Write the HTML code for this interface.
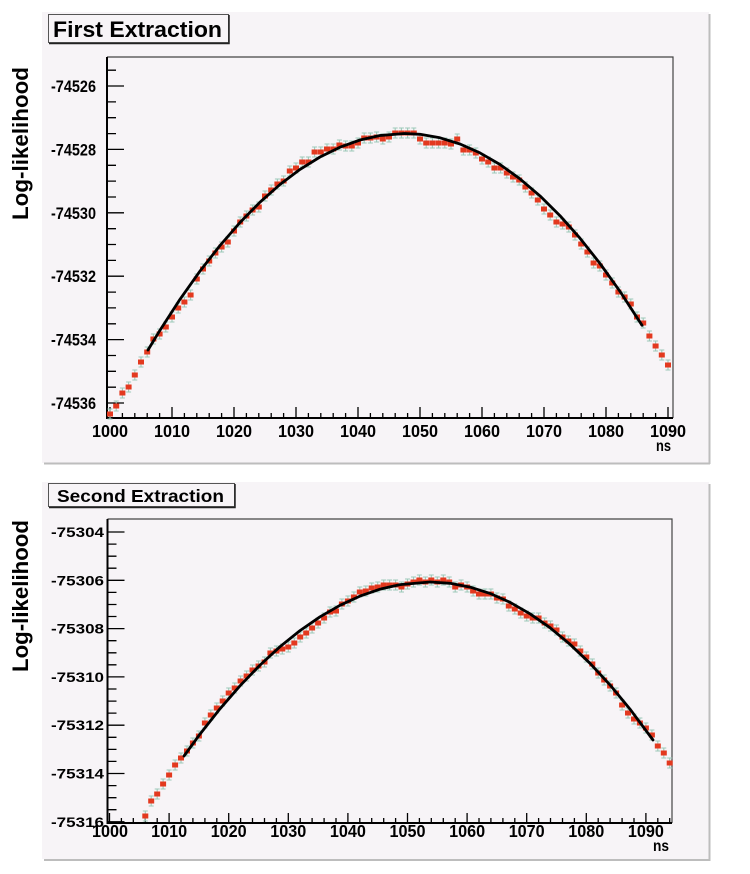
<!DOCTYPE html>
<html>
<head>
<meta charset="utf-8">
<style>
html,body{margin:0;padding:0;background:#fff;}
svg{display:block;}
text{font-family:"Liberation Sans",Arial,sans-serif;font-weight:bold;fill:#000;}
</style>
</head>
<body>
<svg width="750" height="874" viewBox="0 0 750 874" xmlns="http://www.w3.org/2000/svg">
<defs>
  <g id="p">
    <path d="M0 -5V5M-2.5 -5h5M-2.5 5h5" stroke="#9cc9b8" stroke-width="1.1" fill="none"/>
    <rect x="-3" y="-2.5" width="6" height="5" fill="#e3391f"/>
  </g>
</defs>

<!-- ================= PANEL 1 ================= -->
<rect x="42" y="12" width="667" height="451" fill="#f7f4f7"/>
<path d="M709.5 14V464M44 463.5H710" stroke="#bdbdbd" stroke-width="2" fill="none"/>

<rect x="48.5" y="14.5" width="180" height="28" fill="#f7f4f7" stroke="#555" stroke-width="1"/>
<path d="M229 15V43.5H49" stroke="#222" stroke-width="1.5" fill="none"/>
<text x="53" y="37" font-size="22" textLength="169" lengthAdjust="spacingAndGlyphs">First Extraction</text>

<text transform="translate(28,143.5) rotate(-90)" text-anchor="middle" font-size="22" textLength="153" lengthAdjust="spacingAndGlyphs">Log-likelihood</text>

<path d="M107 57H673V418" stroke="#444" stroke-width="1.2" fill="none"/>
<path d="M107 57V418H673" stroke="#000" stroke-width="2" fill="none"/>

<path stroke="#000" stroke-width="1.3" fill="none" d="
M107 86h17M107 149.4h17M107 212.8h17M107 276.2h17M107 339.6h17M107 403h17
M107 70.2h9M107 101.9h9M107 117.7h9M107 133.6h9M107 165.3h9M107 181.1h9M107 197h9
M107 228.7h9M107 244.5h9M107 260.4h9M107 292.1h9M107 307.9h9M107 323.8h9
M107 355.5h9M107 371.3h9M107 387.2h9"/>
<path stroke="#000" stroke-width="1.3" fill="none" d="
M110 418v-11M172 418v-11M234 418v-11M296 418v-11M358 418v-11M420 418v-11M482 418v-11M544 418v-11M606 418v-11M668 418v-11
M122.4 418v-5M134.8 418v-5M147.2 418v-5M159.6 418v-5
M184.4 418v-5M196.8 418v-5M209.2 418v-5M221.6 418v-5
M246.4 418v-5M258.8 418v-5M271.2 418v-5M283.6 418v-5
M308.4 418v-5M320.8 418v-5M333.2 418v-5M345.6 418v-5
M370.4 418v-5M382.8 418v-5M395.2 418v-5M407.6 418v-5
M432.4 418v-5M444.8 418v-5M457.2 418v-5M469.6 418v-5
M494.4 418v-5M506.8 418v-5M519.2 418v-5M531.6 418v-5
M556.4 418v-5M568.8 418v-5M581.2 418v-5M593.6 418v-5
M618.4 418v-5M630.8 418v-5M643.2 418v-5M655.6 418v-5"/>

<g font-size="16.5">
<text x="51" y="92" textLength="45" lengthAdjust="spacingAndGlyphs">-74526</text>
<text x="51" y="155.4" textLength="45" lengthAdjust="spacingAndGlyphs">-74528</text>
<text x="51" y="218.8" textLength="45" lengthAdjust="spacingAndGlyphs">-74530</text>
<text x="51" y="282.2" textLength="45" lengthAdjust="spacingAndGlyphs">-74532</text>
<text x="51" y="345.6" textLength="45" lengthAdjust="spacingAndGlyphs">-74534</text>
<text x="51" y="409" textLength="45" lengthAdjust="spacingAndGlyphs">-74536</text>
</g>
<g font-size="17.5" text-anchor="middle">
<text x="110" y="437" textLength="36" lengthAdjust="spacingAndGlyphs">1000</text>
<text x="172" y="437" textLength="36" lengthAdjust="spacingAndGlyphs">1010</text>
<text x="234" y="437" textLength="36" lengthAdjust="spacingAndGlyphs">1020</text>
<text x="296" y="437" textLength="36" lengthAdjust="spacingAndGlyphs">1030</text>
<text x="358" y="437" textLength="36" lengthAdjust="spacingAndGlyphs">1040</text>
<text x="420" y="437" textLength="36" lengthAdjust="spacingAndGlyphs">1050</text>
<text x="482" y="437" textLength="36" lengthAdjust="spacingAndGlyphs">1060</text>
<text x="544" y="437" textLength="36" lengthAdjust="spacingAndGlyphs">1070</text>
<text x="606" y="437" textLength="36" lengthAdjust="spacingAndGlyphs">1080</text>
<text x="668" y="437" textLength="36" lengthAdjust="spacingAndGlyphs">1090</text>
</g>
<text x="656" y="451" font-size="16" textLength="15" lengthAdjust="spacingAndGlyphs">ns</text>

<g>
<use href="#p" x="110" y="414"/><use href="#p" x="116.2" y="406"/><use href="#p" x="122.4" y="393"/><use href="#p" x="128.6" y="387"/><use href="#p" x="134.8" y="375"/><use href="#p" x="141" y="362"/><use href="#p" x="147.2" y="352"/><use href="#p" x="153.4" y="339"/><use href="#p" x="159.6" y="334"/><use href="#p" x="165.8" y="327"/>
<use href="#p" x="172" y="317"/><use href="#p" x="178.2" y="308"/><use href="#p" x="184.4" y="302"/><use href="#p" x="190.6" y="295"/><use href="#p" x="196.8" y="279"/><use href="#p" x="203" y="269"/><use href="#p" x="209.2" y="261"/><use href="#p" x="215.4" y="253"/><use href="#p" x="221.6" y="247"/><use href="#p" x="227.8" y="242"/>
<use href="#p" x="234" y="231"/><use href="#p" x="240.2" y="222"/><use href="#p" x="246.4" y="216"/><use href="#p" x="252.6" y="210"/><use href="#p" x="258.8" y="207"/><use href="#p" x="265" y="196"/><use href="#p" x="271.2" y="190"/><use href="#p" x="277.4" y="184"/><use href="#p" x="283.6" y="181"/><use href="#p" x="289.8" y="171"/>
<use href="#p" x="296" y="168"/><use href="#p" x="302.2" y="162"/><use href="#p" x="308.4" y="162"/><use href="#p" x="314.6" y="152"/><use href="#p" x="320.8" y="152"/><use href="#p" x="327" y="149"/><use href="#p" x="333.2" y="149"/><use href="#p" x="339.4" y="145"/><use href="#p" x="345.6" y="146"/><use href="#p" x="351.8" y="146"/>
<use href="#p" x="358" y="143"/><use href="#p" x="364.2" y="138"/><use href="#p" x="370.4" y="138"/><use href="#p" x="376.6" y="137"/><use href="#p" x="382.8" y="139"/><use href="#p" x="389" y="137"/><use href="#p" x="395.2" y="133"/><use href="#p" x="401.4" y="133"/><use href="#p" x="407.6" y="133"/><use href="#p" x="413.8" y="133"/>
<use href="#p" x="420" y="139"/><use href="#p" x="426.2" y="143"/><use href="#p" x="432.4" y="143"/><use href="#p" x="438.6" y="143"/><use href="#p" x="444.8" y="143"/><use href="#p" x="451" y="144"/><use href="#p" x="457.2" y="139"/><use href="#p" x="463.4" y="150"/><use href="#p" x="469.6" y="150"/><use href="#p" x="475.8" y="153"/>
<use href="#p" x="482" y="159"/><use href="#p" x="488.2" y="162"/><use href="#p" x="494.4" y="168"/><use href="#p" x="500.6" y="168"/><use href="#p" x="506.8" y="173"/><use href="#p" x="513" y="177"/><use href="#p" x="519.2" y="180"/><use href="#p" x="525.4" y="187"/><use href="#p" x="531.6" y="193"/><use href="#p" x="537.8" y="200"/>
<use href="#p" x="544" y="209"/><use href="#p" x="550.2" y="215"/><use href="#p" x="556.4" y="222"/><use href="#p" x="562.6" y="224"/><use href="#p" x="568.8" y="227"/><use href="#p" x="575" y="235"/><use href="#p" x="581.2" y="244"/><use href="#p" x="587.4" y="252"/><use href="#p" x="593.6" y="263"/><use href="#p" x="599.8" y="266"/>
<use href="#p" x="606" y="275"/><use href="#p" x="612.2" y="283"/><use href="#p" x="618.4" y="292"/><use href="#p" x="624.6" y="297"/><use href="#p" x="630.8" y="304"/><use href="#p" x="637" y="317"/><use href="#p" x="643.2" y="323"/><use href="#p" x="649.4" y="336"/><use href="#p" x="655.6" y="346"/><use href="#p" x="661.8" y="355"/>
<use href="#p" x="668" y="365"/>
</g>
<polyline fill="none" stroke="#000" stroke-width="2.8" stroke-linejoin="round" stroke-linecap="round"
points="148,350 160,330.2 180,299.3 200,271.1 220,245.5 240,222.5 260,202.2 280,184.5 300,169.4 320,157 340,147.2 360,140 380,135.5 404.5,133.5 420,134.3 440,137.8 460,144 480,152.9 500,164.5 520,178.9 540,195.9 560,215.7 580,238.2 600,263.5 620,291.4 642,325.3"/>

<!-- ================= PANEL 2 ================= -->
<rect x="42" y="482" width="667" height="377" fill="#f7f4f7"/>
<path d="M709.5 484V861M44 860H710" stroke="#bdbdbd" stroke-width="2" fill="none"/>

<rect x="48.5" y="483.5" width="186" height="23" fill="#f7f4f7" stroke="#555" stroke-width="1"/>
<path d="M235 484V507.5H49" stroke="#222" stroke-width="1.5" fill="none"/>
<text x="57" y="502" font-size="17.5" textLength="167" lengthAdjust="spacingAndGlyphs">Second Extraction</text>

<text transform="translate(28,596) rotate(-90)" text-anchor="middle" font-size="22" textLength="152" lengthAdjust="spacingAndGlyphs">Log-likelihood</text>

<path d="M107.5 519H672V823" stroke="#444" stroke-width="1.2" fill="none"/>
<path d="M107.5 519V823H672" stroke="#000" stroke-width="2" fill="none"/>

<path stroke="#000" stroke-width="1.3" fill="none" d="
M107.5 532h17M107.5 580.3h17M107.5 628.6h17M107.5 676.9h17M107.5 725.2h17M107.5 773.5h17M107.5 821.8h17
M107.5 544.1h9M107.5 556.2h9M107.5 568.2h9M107.5 592.4h9M107.5 604.5h9M107.5 616.5h9
M107.5 640.7h9M107.5 652.8h9M107.5 664.8h9M107.5 689h9M107.5 701.1h9M107.5 713.1h9
M107.5 737.3h9M107.5 749.4h9M107.5 761.4h9M107.5 785.6h9M107.5 797.7h9M107.5 809.7h9"/>
<path stroke="#000" stroke-width="1.3" fill="none" d="
M109.5 823v-10M169.1 823v-10M228.7 823v-10M288.3 823v-10M347.9 823v-10M407.5 823v-10M467.1 823v-10M526.7 823v-10M586.3 823v-10M645.9 823v-10
M121.4 823v-5M133.3 823v-5M145.3 823v-5M157.2 823v-5
M181 823v-5M192.9 823v-5M204.9 823v-5M216.8 823v-5
M240.6 823v-5M252.5 823v-5M264.5 823v-5M276.4 823v-5
M300.2 823v-5M312.1 823v-5M324.1 823v-5M336 823v-5
M359.8 823v-5M371.7 823v-5M383.7 823v-5M395.6 823v-5
M419.4 823v-5M431.3 823v-5M443.3 823v-5M455.2 823v-5
M479 823v-5M490.9 823v-5M502.9 823v-5M514.8 823v-5
M538.6 823v-5M550.5 823v-5M562.5 823v-5M574.4 823v-5
M598.2 823v-5M610.1 823v-5M622.1 823v-5M634 823v-5
M657.8 823v-5M669.7 823v-5"/>

<g font-size="14">
<text x="51" y="537" textLength="53" lengthAdjust="spacingAndGlyphs">-75304</text>
<text x="51" y="585.3" textLength="53" lengthAdjust="spacingAndGlyphs">-75306</text>
<text x="51" y="633.6" textLength="53" lengthAdjust="spacingAndGlyphs">-75308</text>
<text x="51" y="681.9" textLength="53" lengthAdjust="spacingAndGlyphs">-75310</text>
<text x="51" y="730.2" textLength="53" lengthAdjust="spacingAndGlyphs">-75312</text>
<text x="51" y="778.5" textLength="53" lengthAdjust="spacingAndGlyphs">-75314</text>
<text x="51" y="826.8" textLength="53" lengthAdjust="spacingAndGlyphs">-75316</text>
</g>
<g font-size="17.5" text-anchor="middle">
<text x="110" y="837" textLength="36" lengthAdjust="spacingAndGlyphs">1000</text>
<text x="169.1" y="837" textLength="36" lengthAdjust="spacingAndGlyphs">1010</text>
<text x="228.7" y="837" textLength="36" lengthAdjust="spacingAndGlyphs">1020</text>
<text x="288.3" y="837" textLength="36" lengthAdjust="spacingAndGlyphs">1030</text>
<text x="347.9" y="837" textLength="36" lengthAdjust="spacingAndGlyphs">1040</text>
<text x="407.5" y="837" textLength="36" lengthAdjust="spacingAndGlyphs">1050</text>
<text x="467.1" y="837" textLength="36" lengthAdjust="spacingAndGlyphs">1060</text>
<text x="526.7" y="837" textLength="36" lengthAdjust="spacingAndGlyphs">1070</text>
<text x="586.3" y="837" textLength="36" lengthAdjust="spacingAndGlyphs">1080</text>
<text x="645.9" y="837" textLength="36" lengthAdjust="spacingAndGlyphs">1090</text>
</g>
<text x="653" y="851" font-size="16" textLength="16" lengthAdjust="spacingAndGlyphs">ns</text>

<g>
<use href="#p" x="145.3" y="816"/><use href="#p" x="151.2" y="801"/><use href="#p" x="157.2" y="794"/><use href="#p" x="163.1" y="784"/><use href="#p" x="169.1" y="775"/><use href="#p" x="175.1" y="765"/><use href="#p" x="181" y="758"/><use href="#p" x="187" y="751"/><use href="#p" x="192.9" y="743"/><use href="#p" x="198.9" y="736"/>
<use href="#p" x="204.9" y="723"/><use href="#p" x="210.8" y="715"/><use href="#p" x="216.8" y="708"/><use href="#p" x="222.7" y="701"/><use href="#p" x="228.7" y="693"/><use href="#p" x="234.7" y="688"/><use href="#p" x="240.6" y="681"/><use href="#p" x="246.6" y="676"/><use href="#p" x="252.5" y="670"/><use href="#p" x="258.5" y="666"/>
<use href="#p" x="264.5" y="662"/><use href="#p" x="270.4" y="653"/><use href="#p" x="276.4" y="651"/><use href="#p" x="282.3" y="649"/><use href="#p" x="288.3" y="647"/><use href="#p" x="294.3" y="643"/><use href="#p" x="300.2" y="637"/><use href="#p" x="306.2" y="633"/><use href="#p" x="312.1" y="628"/><use href="#p" x="318.1" y="623"/>
<use href="#p" x="324.1" y="618"/><use href="#p" x="330" y="612"/><use href="#p" x="336" y="611"/><use href="#p" x="341.9" y="604"/><use href="#p" x="347.9" y="601"/><use href="#p" x="353.9" y="597"/><use href="#p" x="359.8" y="592"/><use href="#p" x="365.8" y="591"/><use href="#p" x="371.7" y="588"/><use href="#p" x="377.7" y="587"/>
<use href="#p" x="383.7" y="585"/><use href="#p" x="389.6" y="585"/><use href="#p" x="395.6" y="585"/><use href="#p" x="401.5" y="587"/><use href="#p" x="407.5" y="584"/><use href="#p" x="413.5" y="582"/><use href="#p" x="419.4" y="580"/><use href="#p" x="425.4" y="582"/><use href="#p" x="431.3" y="580"/><use href="#p" x="437.3" y="582"/>
<use href="#p" x="443.3" y="580"/><use href="#p" x="449.2" y="582"/><use href="#p" x="455.2" y="587"/><use href="#p" x="461.1" y="585"/><use href="#p" x="467.1" y="587"/><use href="#p" x="473.1" y="591"/><use href="#p" x="479" y="594"/><use href="#p" x="485" y="594"/><use href="#p" x="490.9" y="594"/><use href="#p" x="496.9" y="598"/>
<use href="#p" x="502.9" y="599"/><use href="#p" x="508.8" y="606"/><use href="#p" x="514.8" y="609"/><use href="#p" x="520.7" y="613"/><use href="#p" x="526.7" y="616"/><use href="#p" x="532.7" y="618"/><use href="#p" x="538.6" y="618"/><use href="#p" x="544.6" y="623"/><use href="#p" x="550.5" y="626"/><use href="#p" x="556.5" y="630"/>
<use href="#p" x="562.5" y="637"/><use href="#p" x="568.4" y="641"/><use href="#p" x="574.4" y="644"/><use href="#p" x="580.3" y="651"/><use href="#p" x="586.3" y="657"/><use href="#p" x="592.3" y="664"/><use href="#p" x="598.2" y="673"/><use href="#p" x="604.2" y="680"/><use href="#p" x="610.1" y="686"/><use href="#p" x="616.1" y="693"/>
<use href="#p" x="622.1" y="705"/><use href="#p" x="628" y="713"/><use href="#p" x="634" y="719"/><use href="#p" x="639.9" y="723"/><use href="#p" x="645.9" y="728"/><use href="#p" x="651.9" y="735"/><use href="#p" x="657.8" y="746"/><use href="#p" x="663.8" y="753"/><use href="#p" x="669.7" y="763"/>
</g>
<polyline fill="none" stroke="#000" stroke-width="2.8" stroke-linejoin="round" stroke-linecap="round"
points="184,756 200,734.1 220,708.8 240,685.8 260,665.1 280,646.7 300,630.6 320,616.8 340,605.3 360,596.1 380,589.2 400,584.6 430,582 450,583.3 470,587.1 490,593.4 510,602.3 530,613.8 550,627.7 570,644.3 590,663.3 610,684.9 630,709.1 653,740"/>
</svg>
</body>
</html>
